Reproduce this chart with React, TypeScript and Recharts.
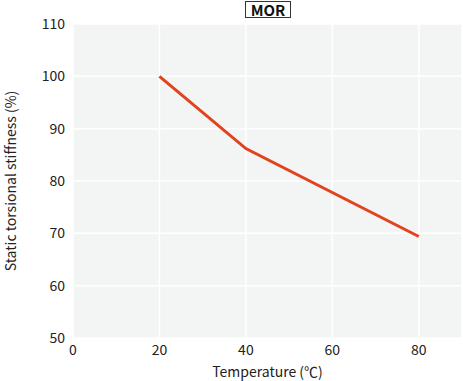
import { LineChart, Line, XAxis, YAxis, CartesianGrid, Label } from "recharts";

const temperatures = [20, 40, 80];
const stiffness = [100, 86.2, 69.4];
const xTicks = [0, 20, 40, 60, 80];
const yTicks = [50, 60, 70, 80, 90, 100, 110];

const data = temperatures.map((t, i) => ({ temp: t, value: stiffness[i] }));

const font = "'Noto Sans CJK JP', 'Noto Sans', sans-serif";

export default function App() {
  return (
    <div
      style={{
        position: "absolute",
        left: 0,
        top: 0,
        width: 463,
        height: 381,
        background: "#fff",
        fontFamily: font,
      }}
    >
      <LineChart
        width={463}
        height={381}
        data={data}
        margin={{ top: 24, right: 1, bottom: 0, left: 0 }}
      >
        <CartesianGrid fill="#f3f4f4" stroke="#ffffff" strokeWidth={1.5} />
        <XAxis
          dataKey="temp"
          type="number"
          domain={[0, 90]}
          ticks={xTicks}
          height={43}
          axisLine={false}
          tickLine={false}
          tickSize={0}
          tickMargin={7}
          tick={{ fontSize: 14, fill: "#222", fontFamily: font }}
        >
          <Label
            value="Temperature (℃)"
            position="insideBottom"
            offset={4}
            style={{ fontSize: 14, fill: "#222", fontFamily: font }}
          />
        </XAxis>
        <YAxis
          type="number"
          domain={[50, 110]}
          ticks={yTicks}
          width={73}
          axisLine={false}
          tickLine={false}
          tickSize={0}
          tickMargin={8}
          tick={{ fontSize: 14, fill: "#222", fontFamily: font }}
        >
          <Label
            content={() => (
              <text
                x={10}
                y={181}
                transform="rotate(-90 10 181)"
                textAnchor="middle"
                dominantBaseline="central"
                style={{ fontSize: 14, fill: "#222", fontFamily: font }}
              >
                Static torsional stiffness (%)
              </text>
            )}
          />
        </YAxis>
        <Line
          type="linear"
          dataKey="value"
          stroke="#e2421e"
          strokeWidth={3}
          dot={false}
          isAnimationActive={false}
        />
      </LineChart>
      {/* boxed title */}
      <div
        style={{
          position: "absolute",
          left: 245,
          top: 1,
          width: 42,
          padding: "0 1px",
          border: "1.5px solid #333",
          fontWeight: 700,
          fontSize: 15,
          lineHeight: "15px",
          textAlign: "center",
          color: "#111",
          background: "#fff",
        }}
      >
        MOR
      </div>
    </div>
  );
}
